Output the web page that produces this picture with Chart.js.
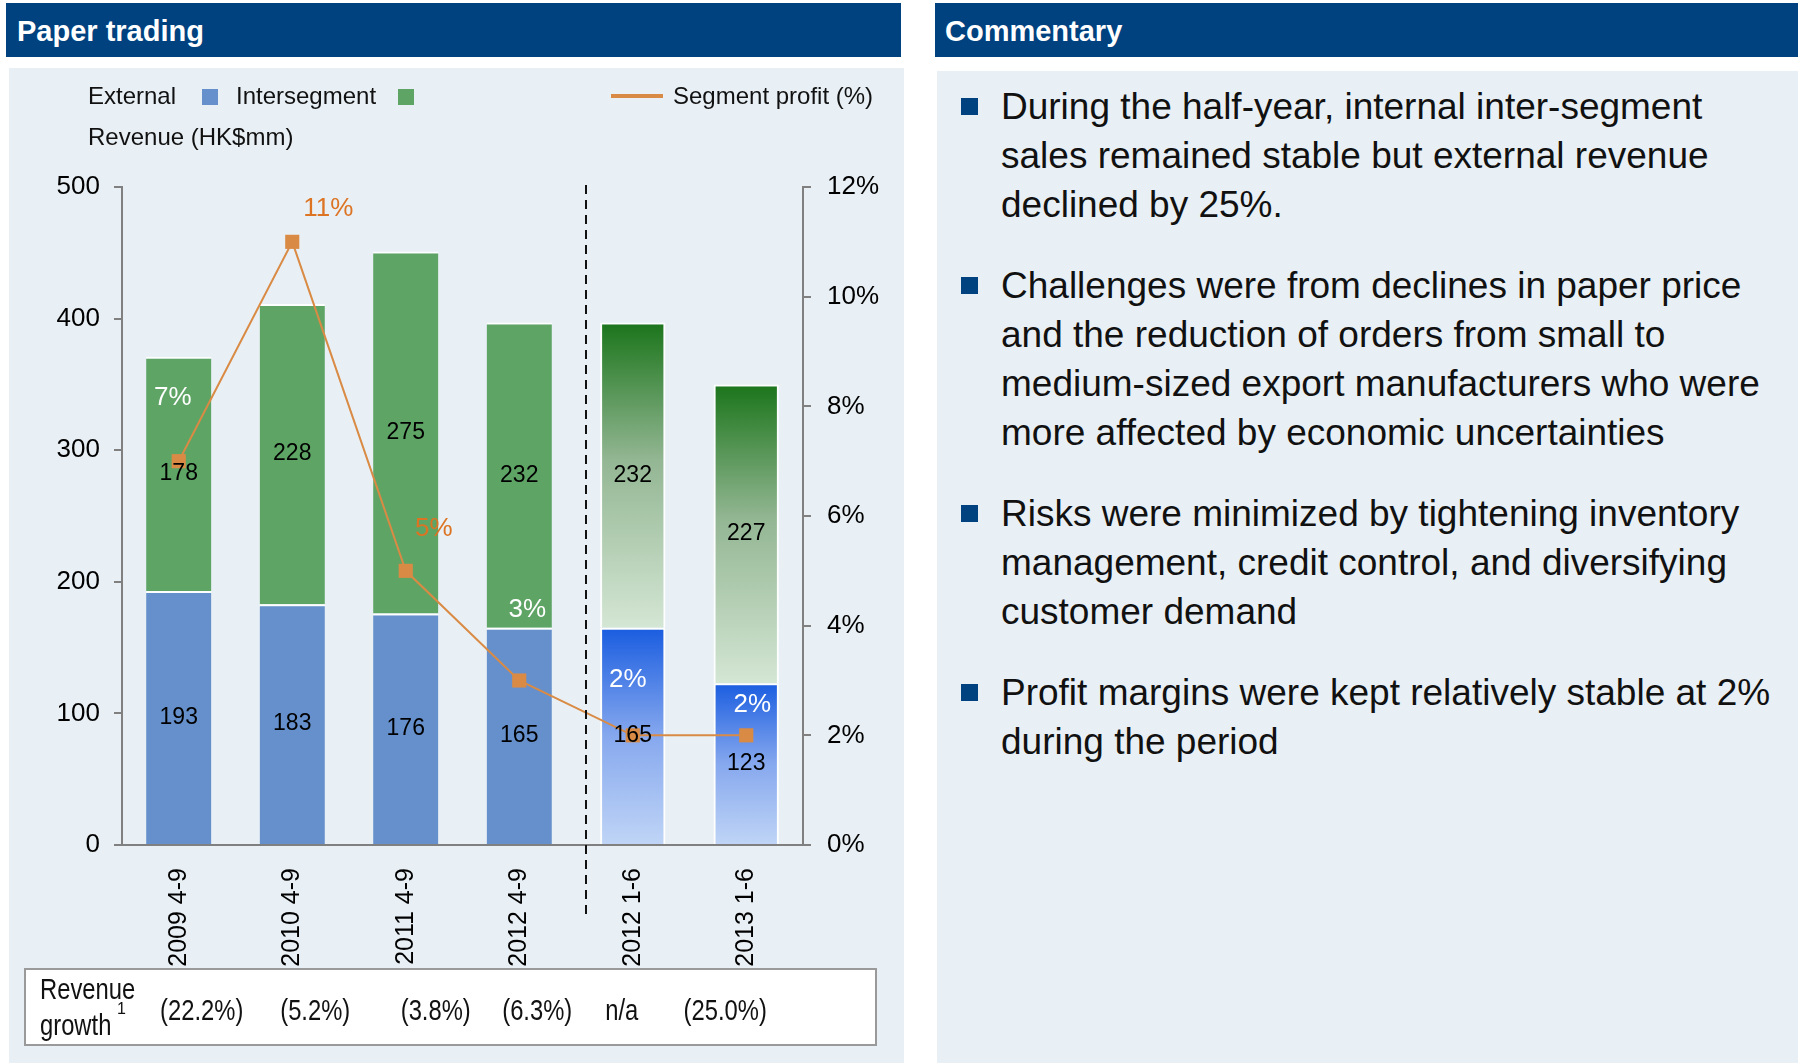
<!DOCTYPE html>
<html>
<head>
<meta charset="utf-8">
<script src="https://cdn.jsdelivr.net/npm/chart.js@4/dist/chart.umd.min.js"></script>
<style>
  body { margin: 0; width: 1798px; height: 1063px; background: #fff; position: relative; overflow: hidden;
         font-family: "Liberation Sans", Arial, sans-serif; }
  .hdr { position: absolute; top: 3px; height: 54px; background: #00427f; color: #fff; font-weight: bold;
         font-size: 29px; line-height: 56px; box-sizing: border-box; }
  .panel { position: absolute; background: #e9f0f5; }
  #chart { position: absolute; left: 0; top: 0; }
  ul { list-style: none; margin: 0; padding: 11px 0 0 0; }
  li { position: relative; padding-left: 64px; font-size: 37px; line-height: 49px; color: #111;
       margin-bottom: 32px; white-space: nowrap; }
  li::before { content: ""; position: absolute; left: 24px; top: 16px; width: 17px; height: 17px; background: #00427f; }
</style>
</head>
<body>
<div class="hdr" style="left:6px;width:895px;padding-left:11px">Paper trading</div>
<div class="hdr" style="left:935px;width:863px;padding-left:10px">Commentary</div>
<div class="panel" style="left:9px;top:68px;width:895px;height:995px"></div>
<div class="panel" style="left:937px;top:71px;width:861px;height:992px">
  <ul>
    <li>During the half-year, internal inter-segment<br>sales remained stable but external revenue<br>declined by 25%.</li>
    <li>Challenges were from declines in paper price<br>and the reduction of orders from small to<br>medium-sized export manufacturers who were<br>more affected by economic uncertainties</li>
    <li>Risks were minimized by tightening inventory<br>management, credit control, and diversifying<br>customer demand</li>
    <li>Profit margins were kept relatively stable at 2%<br>during the period</li>
  </ul>
</div>
<canvas id="chart" width="910" height="1063"></canvas>
<script>
// data
const categories = ['2009 4-9', '2010 4-9', '2011 4-9', '2012 4-9', '2012 1-6', '2013 1-6'];
const external = [193, 183, 176, 165, 165, 123];
const intersegment = [178, 228, 275, 232, 232, 227];
const segmentProfit = [7, 11, 5, 3, 2, 2];
const revenueGrowth = ['(22.2%)', '(5.2%)', '(3.8%)', '(6.3%)', 'n/a', '(25.0%)'];
const revenueTicks = [0, 100, 200, 300, 400, 500];
const profitTicks = [0, 2, 4, 6, 8, 10, 12];

const FONT = '"Liberation Sans", Arial, sans-serif';
const BLUE = '#6590cb';
const GREEN = '#5ea465';
const ORANGE = '#d98b45';
const FIRST_HALF = 4; // bars from this index on are the half-year bars (gradient)

const blueStops = [[0, '#1a5de0'], [0.5, '#86a8ee'], [1, '#c0d5f6']];
const greenStops = [[0, '#1b751b'], [0.45, '#93b693'], [1, '#d4e6d4']];

// vertical gradient over one stacked segment
function segFill(ctx, dsIndex) {
  const solid = dsIndex === 0 ? BLUE : GREEN;
  if (ctx.type !== 'data' || ctx.dataIndex < FIRST_HALF) return solid;
  const chart = ctx.chart;
  const y = chart.scales.y;
  if (!chart.chartArea || !y) return solid;
  const i = ctx.dataIndex;
  const base = dsIndex === 0 ? 0 : external[i];
  const val = dsIndex === 0 ? external[i] : intersegment[i];
  const top = y.getPixelForValue(base + val);
  const bot = y.getPixelForValue(base);
  const g = chart.ctx.createLinearGradient(0, top, 0, bot);
  (dsIndex === 0 ? blueStops : greenStops).forEach(s => g.addColorStop(s[0], s[1]));
  return g;
}

function segBorder(ctx) {
  if (ctx.dataIndex >= FIRST_HALF) return 2;
  return { top: 2, left: 0, right: 0, bottom: 0 };
}

// label tweaks for the profit line
const pctOffset = [[-6, -63], [36, -33], [28, -42], [8, -71], [-5, -56], [6, -31]];
const pctColor = ['#fff', '#dc7424', '#dc7424', '#fff', '#fff', '#fff'];
const growthShift = [23, 23, 30, 18, -11, -21];

function narrowText(c, txt, x, y, sx) {
  c.save();
  c.translate(x, y);
  c.scale(sx, 1);
  c.fillText(txt, 0, 0);
  c.restore();
}

const extras = {
  id: 'extras',
  afterDatasetsDraw(chart) {
    const c = chart.ctx;
    const area = chart.chartArea;
    c.save();

    // dashed separator between full-year and half-year (sits a bit right of the gap centre)
    const xs = chart.scales.x;
    const sepX = (xs.getPixelForValue(3) + xs.getPixelForValue(4)) / 2 + 10;
    c.strokeStyle = '#111';
    c.lineWidth = 2;
    c.setLineDash([9, 6]);
    c.beginPath();
    c.moveTo(sepX, area.top - 2);
    c.lineTo(sepX, 920);
    c.stroke();
    c.setLineDash([]);

    // bar values
    c.font = '23px ' + FONT;
    c.fillStyle = '#000';
    c.textAlign = 'center';
    c.textBaseline = 'middle';
    [0, 1].forEach(d => {
      chart.getDatasetMeta(d).data.forEach((el, i) => {
        c.fillText(chart.data.datasets[d].data[i], el.x, (el.y + el.base) / 2);
      });
    });

    // profit percentages
    c.font = '26px ' + FONT;
    chart.getDatasetMeta(2).data.forEach((pt, i) => {
      c.fillStyle = pctColor[i];
      c.fillText(segmentProfit[i] + '%', pt.x + pctOffset[i][0], pt.y + pctOffset[i][1]);
    });

    // legend
    c.textAlign = 'left';
    c.fillStyle = '#111';
    c.font = '24px ' + FONT;
    c.fillText('External', 88, 97);
    c.fillStyle = BLUE;
    c.fillRect(202, 89, 16, 16);
    c.fillStyle = '#111';
    c.fillText('Intersegment', 236, 97);
    c.fillStyle = GREEN;
    c.fillRect(398, 89, 16, 16);
    c.strokeStyle = ORANGE;
    c.lineWidth = 4;
    c.beginPath();
    c.moveTo(611, 96);
    c.lineTo(663, 96);
    c.stroke();
    c.fillStyle = '#111';
    c.fillText('Segment profit (%)', 673, 97);
    c.fillText('Revenue (HK$mm)', 88, 138);

    // revenue growth box
    c.fillStyle = '#fff';
    c.fillRect(25, 969, 851, 76);
    c.strokeStyle = '#9a9a9a';
    c.lineWidth = 2;
    c.strokeRect(25, 969, 851, 76);
    c.fillStyle = '#111';
    c.font = '29px ' + FONT;
    c.textAlign = 'left';
    narrowText(c, 'Revenue', 40, 991, 0.82);
    narrowText(c, 'growth', 40, 1027, 0.82);
    c.font = '16px ' + FONT;
    c.fillText('1', 117, 1010);
    c.font = '29px ' + FONT;
    c.textAlign = 'center';
    revenueGrowth.forEach((g, i) => {
      narrowText(c, g, xs.getPixelForValue(i) + growthShift[i], 1012, 0.82);
    });

    c.restore();
  }
};

new Chart(document.getElementById('chart'), {
  data: {
    labels: categories,
    datasets: [
      {
        type: 'bar', label: 'External', data: external, yAxisID: 'y', order: 1,
        backgroundColor: ctx => segFill(ctx, 0),
        borderColor: 'rgba(255,255,255,0.9)', borderWidth: segBorder,
        barPercentage: 0.575, categoryPercentage: 1
      },
      {
        type: 'bar', label: 'Intersegment', data: intersegment, yAxisID: 'y', order: 1,
        backgroundColor: ctx => segFill(ctx, 1),
        borderColor: 'rgba(255,255,255,0.9)', borderWidth: segBorder,
        barPercentage: 0.575, categoryPercentage: 1
      },
      {
        type: 'line', label: 'Segment profit (%)', data: segmentProfit, yAxisID: 'y1', order: 0,
        borderColor: ORANGE, borderWidth: 2, tension: 0,
        pointStyle: 'rect', pointRadius: 10, pointBackgroundColor: ORANGE, pointBorderWidth: 0
      }
    ]
  },
  options: {
    responsive: false,
    animation: false,
    devicePixelRatio: 1,
    layout: { padding: { top: 187, left: 0, right: 0, bottom: 0 } },
    plugins: { legend: { display: false }, tooltip: { enabled: false } },
    scales: {
      x: {
        stacked: true,
        grid: { display: false, drawTicks: false },
        border: { display: true, color: '#808080', width: 2 },
        ticks: { minRotation: 90, maxRotation: 90, padding: 23, color: '#000', font: { family: FONT, size: 25 } },
        afterFit: s => { s.height = 218; }
      },
      y: {
        stacked: true, position: 'left', min: 0, max: 500,
        afterBuildTicks: s => { s.ticks = revenueTicks.map(v => ({ value: v })); },
        grid: { drawOnChartArea: false, drawTicks: true, tickLength: 8, color: '#808080', lineWidth: 2 },
        border: { display: true, color: '#808080', width: 2 },
        ticks: { padding: 14, color: '#000', font: { family: FONT, size: 26 } },
        afterFit: s => { s.width = 122; }
      },
      y1: {
        position: 'right', min: 0, max: 12,
        afterBuildTicks: s => { s.ticks = profitTicks.map(v => ({ value: v })); },
        grid: { drawOnChartArea: false, drawTicks: true, tickLength: 8, color: '#808080', lineWidth: 2 },
        border: { display: true, color: '#808080', width: 2 },
        ticks: { padding: 16, color: '#000', font: { family: FONT, size: 26 }, callback: v => v + '%' },
        afterFit: s => { s.width = 107; }
      }
    }
  },
  plugins: [extras]
});
</script>
</body>
</html>
